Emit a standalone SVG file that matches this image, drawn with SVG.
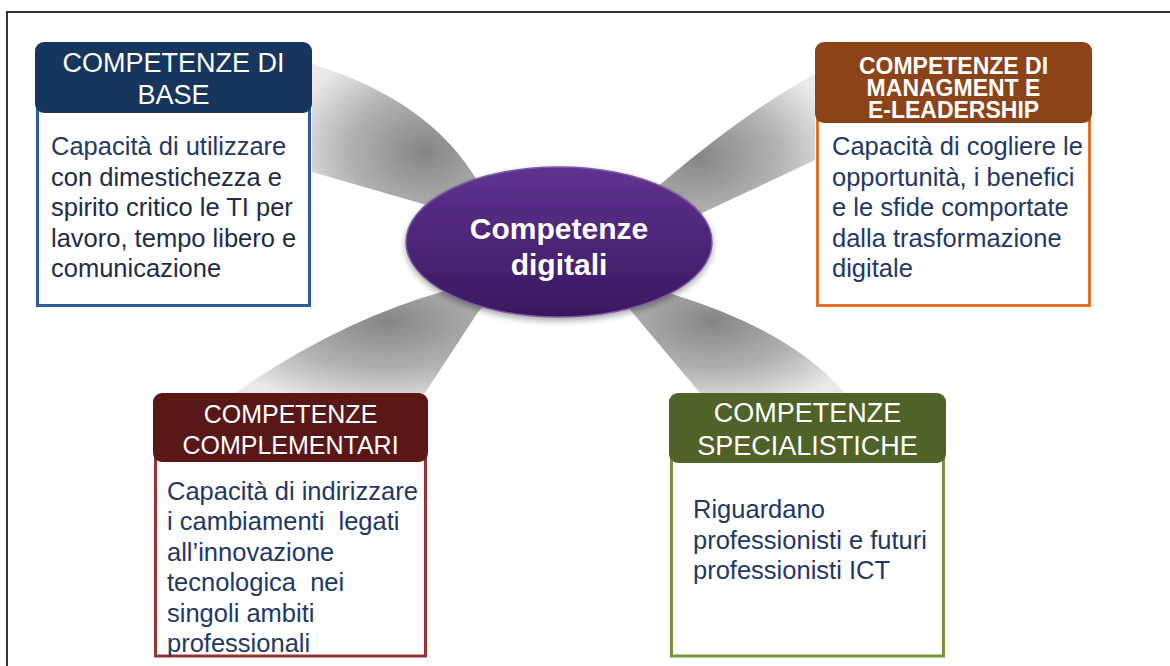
<svg xmlns="http://www.w3.org/2000/svg" width="1170" height="666" viewBox="0 0 1170 666">
<defs>
<radialGradient id="ray" cx="0.5" cy="0.5" r="0.62">
<stop offset="0" stop-color="#858585"/>
<stop offset="0.55" stop-color="#b2b2b2"/>
<stop offset="1" stop-color="#eaeaea"/>
</radialGradient>
<linearGradient id="purple" x1="0" y1="0" x2="0" y2="1">
<stop offset="0" stop-color="#5f3390"/>
<stop offset="1" stop-color="#3a1860"/>
</linearGradient>
<filter id="shadow" x="-20%" y="-20%" width="140%" height="150%">
<feGaussianBlur in="SourceAlpha" stdDeviation="3"/>
<feOffset dx="0" dy="3" result="b"/>
<feComponentTransfer><feFuncA type="linear" slope="0.35"/></feComponentTransfer>
<feMerge><feMergeNode/><feMergeNode in="SourceGraphic"/></feMerge>
</filter>
</defs>
<style>
.frame{stroke:#333;stroke-width:2;fill:none}
.ray{fill:url(#ray)}
.hdr{font-family:"Liberation Sans",Arial,sans-serif;fill:#fff;text-anchor:middle}
.body{font-family:"Liberation Sans",Arial,sans-serif;font-size:25.5px;fill:#1f3864;white-space:pre}
.bodyrect{fill:#fff;stroke-width:3}
.center{font-family:"Liberation Sans",Arial,sans-serif;font-weight:bold;font-size:30px;fill:#fff;text-anchor:middle}
</style>
<rect width="1170" height="666" fill="#fff"/>
<path class="frame" d="M7,667 V12 H1171"/>
<g id="connectors">
<path class="ray" d="M312,64 Q430,100 478,182 L540,240 L430,206 L312,172 Z"/>
<path class="ray" d="M815,74 Q745,112 662,183 L580,240 L700,214 L815,160 Z"/>
<path class="ray" d="M445,291 Q340,320 235,393 L425,393 L478,312 L540,250 Z"/>
<path class="ray" d="M632,312 L700,393 L845,393 Q790,330 672,294 L580,250 Z"/>
</g>
<g id="base">
<rect class="bodyrect" x="37.5" y="80" width="272" height="225.5" stroke="#2c5d96"/>
<rect x="35" y="42" width="277" height="71" rx="9" fill="#17365d"/>
<text class="hdr" font-size="27" x="173.5" y="72">COMPETENZE DI</text>
<text class="hdr" font-size="27" x="173.5" y="104">BASE</text>
<text class="body" fill="#1e2c44" x="51" y="155">Capacità di utilizzare</text>
<text class="body" x="51" y="186" style="fill:#1e2c44">con dimestichezza e</text>
<text class="body" x="51" y="216" style="fill:#1e2c44">spirito critico le TI per</text>
<text class="body" x="51" y="247" style="fill:#1e2c44">lavoro, tempo libero e</text>
<text class="body" x="51" y="277" style="fill:#1e2c44">comunicazione</text>
</g>
<g id="management">
<rect class="bodyrect" x="817.5" y="90" width="272" height="215.5" stroke="#e0702a"/>
<rect x="815" y="42" width="277" height="81" rx="9" fill="#8b4317"/>
<text class="hdr" font-size="23" font-weight="bold" x="953.5" y="74">COMPETENZE DI</text>
<text class="hdr" font-size="23" font-weight="bold" x="953.5" y="96">MANAGMENT E</text>
<text class="hdr" font-size="23" font-weight="bold" x="953.5" y="118">E-LEADERSHIP</text>
<text class="body" x="832" y="155">Capacità di cogliere le</text>
<text class="body" x="832" y="186">opportunità, i benefici</text>
<text class="body" x="832" y="216">e le sfide comportate</text>
<text class="body" x="832" y="247">dalla trasformazione</text>
<text class="body" x="832" y="277">digitale</text>
</g>
<g id="complementari">
<rect class="bodyrect" x="155.5" y="430" width="270" height="226" stroke="#943634"/>
<rect x="153" y="393" width="275" height="69" rx="9" fill="#5a1717"/>
<text class="hdr" font-size="25" x="290.5" y="423">COMPETENZE</text>
<text class="hdr" font-size="25" x="290.5" y="454">COMPLEMENTARI</text>
<text class="body" x="167" y="500">Capacità di indirizzare</text>
<text class="body" x="167" y="530">i cambiamenti  legati</text>
<text class="body" x="167" y="561">all’innovazione</text>
<text class="body" x="167" y="591">tecnologica  nei</text>
<text class="body" x="167" y="622">singoli ambiti</text>
<text class="body" x="167" y="652">professionali</text>
</g>
<g id="specialistiche">
<rect class="bodyrect" x="671.5" y="430" width="272" height="226" stroke="#77933c"/>
<rect x="669" y="393" width="277" height="70" rx="9" fill="#4f6228"/>
<text class="hdr" font-size="27" x="807.5" y="422">COMPETENZE</text>
<text class="hdr" font-size="27" x="807.5" y="455">SPECIALISTICHE</text>
<text class="body" x="693" y="518">Riguardano</text>
<text class="body" x="693" y="549">professionisti e futuri</text>
<text class="body" x="693" y="579">professionisti ICT</text>
</g>
<g id="digitali">
<ellipse cx="559" cy="242" rx="153" ry="75" fill="url(#purple)" stroke="#7a5aa0" stroke-width="1.5" filter="url(#shadow)"/>
<text class="center" x="559" y="239">Competenze</text>
<text class="center" x="559" y="275">digitali</text>
</g>
</svg>
